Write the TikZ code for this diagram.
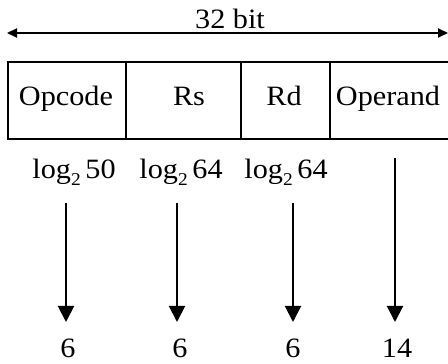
\documentclass[tikz,border=0pt]{standalone}
\usepackage{fontspec}
\setmainfont{Liberation Serif}[FakeStretch=1.08]
\usetikzlibrary{arrows.meta}
\begin{document}
\begin{tikzpicture}[x=1pt,y=1pt,
  lbl/.style={inner sep=0pt,anchor=base,font=\fontsize{28}{30}\selectfont},
  field/.style={draw,line width=1.4pt},
  downarrow/.style={line width=2pt,-{Triangle[length=16pt,width=16pt]}},
  span/.style={line width=2pt,{Triangle[length=10pt,width=9pt]}-{Triangle[length=10pt,width=9pt]}}]
\useasboundingbox (0,0) rectangle (448,364);
% overall width arrow
\coordinate (wl) at (7,331);
\coordinate (wr) at (448,331);
\draw[span] (wl) -- (wr);
\node[lbl] (width) at (230,335) {32 bit};
% instruction fields (the last one runs past the right edge)
\begin{scope}
\clip (0,0) rectangle (448,364);
\draw[field] (8,225) rectangle (470,302);
\draw[field] (126,225) -- (126,302);
\draw[field] (241,225) -- (241,302);
\draw[field] (330,225) -- (330,302);
\end{scope}
\node[lbl] (op) at (66,258) {Opcode};
\node[lbl] (rs) at (189,258) {Rs};
\node[lbl] (rd) at (284,258) {Rd};
\node[lbl] (opd) at (388,258) {Operand};
% bit counts
\newcommand{\lgtwo}[1]{log\raisebox{-7pt}{\fontsize{18}{19}\selectfont 2}\,#1}
\node[lbl] (l1) at (74,185) {\lgtwo{50}};
\node[lbl] (l2) at (181,185) {\lgtwo{64}};
\node[lbl] (l3) at (286,185) {\lgtwo{64}};
\node[lbl] (b1) at (68,6) {6};
\node[lbl] (b2) at (180,6) {6};
\node[lbl] (b3) at (293,6) {6};
\node[lbl] (b4) at (397,6) {14};
\coordinate (s1) at (66,161);
\coordinate (s2) at (177,161);
\coordinate (s3) at (293,161);
\coordinate (s4) at (395,206);
\coordinate (t1) at (66,42);
\coordinate (t2) at (177,42);
\coordinate (t3) at (293,42);
\coordinate (t4) at (395,42);
\draw[downarrow] (s1) -- (t1);
\draw[downarrow] (s2) -- (t2);
\draw[downarrow] (s3) -- (t3);
\draw[downarrow] (s4) -- (t4);
\end{tikzpicture}
\end{document}
